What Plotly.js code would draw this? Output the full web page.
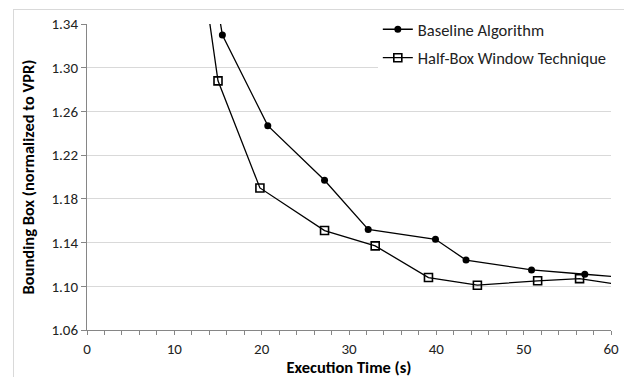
<!DOCTYPE html>
<html>
<head>
<meta charset="utf-8">
<script src="https://cdn.plot.ly/plotly-3.0.1.min.js"></script>
<style>
  html, body { margin: 0; padding: 0; background: #fff; }
  #wrap { position: relative; width: 624px; height: 377px; overflow: hidden; }
  #frame { position: absolute; left: 13px; top: 9px; width: 700px; height: 500px;
           border-left: 1px solid #d9d9d9; border-top: 1px solid #d9d9d9; pointer-events: none; }
  #chart { position: absolute; left: 0; top: 0; width: 624px; height: 377px; }
</style>
</head>
<body>
<div id="wrap">
  <div id="chart"></div>
  <div id="frame"></div>
</div>
<script>
const seriesNames = ["Baseline Algorithm", "Half-Box Window Technique"];
const baselineTime = [13.0, 15.5, 20.7, 27.2, 32.2, 39.9, 43.4, 50.9, 57.0, 63.0];
const baselineBox  = [1.45, 1.330, 1.247, 1.197, 1.152, 1.143, 1.124, 1.115, 1.111, 1.107];
const halfBoxTime  = [13.0, 15.0, 19.8, 27.2, 33.0, 39.1, 44.7, 51.6, 56.4, 63.0];
const halfBoxBox   = [1.40, 1.288, 1.190, 1.151, 1.137, 1.108, 1.101, 1.105, 1.107, 1.099];
const xTickVals = [0, 10, 20, 30, 40, 50, 60];
const yTickVals = [1.06, 1.10, 1.14, 1.18, 1.22, 1.26, 1.30, 1.34];

const FONT = "Carlito, Lato, 'Open Sans', sans-serif";

const traces = [
  {
    x: baselineTime, y: baselineBox, name: seriesNames[0], type: "scatter", mode: "lines+markers",
    line: { color: "#000", width: 1.3 },
    marker: { symbol: "circle", size: 7, color: "#000" },
    legend: "legend"
  },
  {
    x: halfBoxTime, y: halfBoxBox, name: seriesNames[1], type: "scatter", mode: "lines+markers",
    line: { color: "#000", width: 1.3 },
    marker: { symbol: "square-open", size: 8, color: "#000", line: { width: 1.6, color: "#000" } },
    legend: "legend2"
  }
];

const legendCommon = {
  bgcolor: "#fff", borderwidth: 0, font: { family: FONT, size: 16.5, color: "#222" },
  xanchor: "left", yanchor: "middle", itemwidth: 30, traceorder: "normal"
};

const layout = {
  width: 624, height: 377,
  margin: { l: 87, r: 13, t: 20, b: 47 },
  paper_bgcolor: "rgba(0,0,0,0)", plot_bgcolor: "#fff",
  font: { family: FONT, size: 15, color: "#333" },
  showlegend: true,
  legend: Object.assign({}, legendCommon, { x: 0.555, y: 0.982 }),
  legend2: Object.assign({}, legendCommon, { x: 0.555, y: 0.889 }),
  xaxis: {
    range: [0, 60], tickvals: xTickVals, ticktext: xTickVals.map(String),
    showgrid: false, zeroline: false,
    showline: true, linecolor: "#868686", linewidth: 1,
    ticks: "outside", ticklen: 4, tickcolor: "#868686",
    minor: { dtick: 2, ticks: "outside", ticklen: 4, tickcolor: "#868686", showgrid: false },
    tickfont: { family: FONT, size: 15, color: "#222" },
    ticklabelstandoff: 1,
    title: { text: "<b>Execution Time (s)</b>", font: { family: FONT, size: 16.5, color: "#000" }, standoff: 3 }
  },
  yaxis: {
    range: [1.06, 1.34], tickvals: yTickVals, ticktext: yTickVals.map(v => v.toFixed(2)),
    showgrid: true, gridcolor: "#d9d9d9", gridwidth: 1, zeroline: false,
    showline: true, linecolor: "#868686", linewidth: 1,
    ticks: "outside", ticklen: 5, tickcolor: "#868686",
    tickfont: { family: FONT, size: 15, color: "#222" },
    title: { text: "<b>Bounding Box (normalized to VPR)</b>", font: { family: FONT, size: 16.5, color: "#000" }, standoff: 12 }
  }
};

Plotly.newPlot("chart", traces, layout, { displayModeBar: false, staticPlot: true });
</script>
</body>
</html>
